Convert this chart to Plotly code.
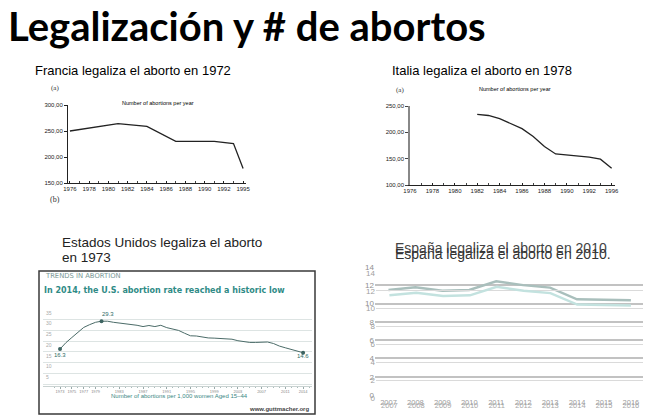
import plotly.graph_objects as go

W, H = 658, 419

# Francia (miles de abortos por año)
fr_years = [1976, 1981, 1984, 1987, 1991, 1993, 1994]
fr_abortions = [250, 264, 259, 230, 230, 226, 178]
fr_tick_years = [1976, 1978, 1980, 1982, 1984, 1986, 1988, 1990, 1992, 1994]
fr_tick_labels = ["1976", "1978", "1980", "1982", "1984", "1986", "1988", "1990", "1992", "1995"]
fr_y_ticks = [150, 200, 250, 300]

# Italia (miles de abortos por año)
it_years = [1982, 1983, 1984, 1985, 1986, 1987, 1988, 1989, 1990, 1991, 1992, 1993, 1994]
it_abortions = [234, 232, 226, 216, 207, 192, 173, 159, 157, 155, 153, 149, 132]
it_tick_years = [1976, 1978, 1980, 1982, 1984, 1986, 1988, 1990, 1992, 1994]
it_tick_labels = ["1976", "1978", "1980", "1982", "1984", "1986", "1988", "1990", "1992", "1996"]
it_y_ticks = [100, 150, 200, 250]

# Estados Unidos (abortos por 1.000 mujeres 15-44)
us_years = list(range(1973, 2015))
us_rate = [16.3, 19.3, 21.7, 24.2, 26.4, 27.7, 28.8, 29.3, 29.3, 28.8,
           28.5, 28.1, 28.0, 27.4, 26.8, 27.3, 26.8, 27.4, 26.3, 25.7,
           25.0, 23.7, 22.5, 22.4, 21.9, 21.5, 21.4, 21.3, 21.1, 20.9,
           20.2, 19.7, 19.4, 19.4, 19.5, 19.6, 18.9, 17.7, 16.9, 16.2,
           15.4, 14.6]
us_marked_years = [1973, 1980, 2014]
us_tick_years = [1973, 1975, 1977, 1979, 1983, 1987, 1991, 1995, 1999, 2003, 2007, 2011, 2014]

# España (tasa por 1.000 mujeres)
es_years = [2007, 2008, 2009, 2010, 2011, 2012, 2013, 2014, 2015, 2016]
es_rate = [11.49, 11.78, 11.41, 11.49, 12.44, 12.01, 11.74, 10.46, 10.40, 10.36]


def dx(left, right):
    return [left / W, right / W]


def dy(top, bottom):
    return [1 - bottom / H, 1 - top / H]


annotations = []


def label(text, px, py, size, color="#000", xanchor="center", family="Liberation Sans"):
    annotations.append(dict(
        text=text, x=px / W, y=1 - py / H, xref="paper", yref="paper",
        xanchor=xanchor, yanchor="middle", showarrow=False,
        font=dict(size=size, color=color, family=family),
    ))


fig = go.Figure()

# --- Francia ---
fig.add_trace(go.Scatter(x=fr_years, y=fr_abortions, mode="lines",
                         line=dict(color="#222", width=1.3), xaxis="x", yaxis="y"))
# --- Italia ---
fig.add_trace(go.Scatter(x=it_years, y=it_abortions, mode="lines",
                         line=dict(color="#222", width=1.3), xaxis="x2", yaxis="y2"))
# --- Estados Unidos ---
fig.add_trace(go.Scatter(x=us_years, y=us_rate, mode="lines",
                         line=dict(color="#4b6b68", width=1), xaxis="x3", yaxis="y3"))
marked = [us_rate[us_years.index(y)] for y in us_marked_years]
fig.add_trace(go.Scatter(x=us_marked_years, y=marked, mode="markers",
                         marker=dict(color="#3d6461", size=4), xaxis="x3", yaxis="y3"))
# --- España (imagen duplicada, dos copias desplazadas) ---
fig.add_trace(go.Scatter(x=es_years, y=es_rate, mode="lines",
                         line=dict(color="#c3e2df", width=2.5), xaxis="x5", yaxis="y5"))
fig.add_trace(go.Scatter(x=es_years, y=es_rate, mode="lines",
                         line=dict(color="#a9bfbc", width=2.5), xaxis="x4", yaxis="y4"))

small = dict(family="Liberation Sans", size=6, color="#222")

fig.update_layout(
    width=W, height=H,
    margin=dict(l=0, r=0, t=0, b=0, pad=0),
    paper_bgcolor="white", plot_bgcolor="rgba(0,0,0,0)",
    showlegend=False,
    xaxis=dict(domain=dx(68, 246), range=[1975.8, 1994.3], tickvals=fr_tick_years,
               ticktext=fr_tick_labels, tickfont=small, showgrid=False, zeroline=False,
               showline=True, linecolor="#222", linewidth=1, ticks="inside", ticklen=2,
               tickcolor="#222", automargin=False,
               minor=dict(dtick=1, ticks="inside", ticklen=2, tickcolor="#444")),
    yaxis=dict(domain=dy(105, 183), range=[150, 300], tickvals=fr_y_ticks,
               ticktext=[f"{v},00" for v in fr_y_ticks], tickfont=small, showgrid=False,
               zeroline=False, showline=True, linecolor="#222", linewidth=1,
               ticks="outside", ticklen=3, tickcolor="#222", automargin=False),
    xaxis2=dict(domain=dx(410, 615), range=[1976, 1994.3], tickvals=it_tick_years,
                ticktext=it_tick_labels, tickfont=small, showgrid=False, zeroline=False,
                showline=True, linecolor="#222", linewidth=1, ticks="inside", ticklen=2,
                tickcolor="#222", anchor="y2", automargin=False,
                minor=dict(dtick=1, ticks="inside", ticklen=2, tickcolor="#444")),
    yaxis2=dict(domain=dy(106, 185), range=[100, 250], tickvals=it_y_ticks,
                ticktext=[f"{v},00" for v in it_y_ticks], tickfont=small, showgrid=False,
                zeroline=False, showline=True, linecolor="#888", linewidth=1.5,
                ticks="outside", ticklen=3, tickcolor="#444", anchor="x2", automargin=False),
    xaxis3=dict(domain=dx(43, 312), range=[1970.13, 2015.5], tickvals=us_tick_years,
                tickfont=dict(family="Liberation Sans", size=4, color="#888"), tickangle=0,
                showgrid=False, zeroline=False, showline=True, linecolor="#c9d2d1",
                ticks="outside", ticklen=2, tickcolor="#9aa", anchor="y3", automargin=False,
                minor=dict(dtick=1, ticks="outside", ticklen=1.5, tickcolor="#abb")),
    yaxis3=dict(domain=dy(309, 385.5), range=[-0.7, 35], tickvals=[0, 5, 10, 15, 20, 25, 30, 35],
                gridcolor="#dde4e3", zeroline=False, showline=False, ticks="", anchor="x3",
                ticklabelposition="inside", ticklabelshift=4, automargin=False,
                tickfont=dict(family="Liberation Sans", size=5, color="#aaa")),
    xaxis4=dict(domain=dx(375, 643), range=[2006.5, 2016.45], tickvals=es_years,
                tickfont=dict(family="Liberation Sans", size=7.5, color="#9a9a9a"),
                showgrid=False, zeroline=False, showline=False, ticks="", anchor="y4",
                automargin=False),
    yaxis4=dict(domain=dy(266, 396), range=[-0.1, 14.1], dtick=2, gridcolor="#c2c2c2",
                gridwidth=1.5, zeroline=False, showline=False, ticks="", anchor="x4",
                automargin=False,
                tickfont=dict(family="Liberation Sans", size=8, color="#8f8f8f")),
    xaxis5=dict(domain=dx(376, 643), range=[2006.5, 2016.45], tickvals=es_years,
                tickfont=dict(family="Liberation Sans", size=7.5, color="#a8a8a8"),
                showgrid=False, zeroline=False, showline=False, ticks="", anchor="y5",
                automargin=False),
    yaxis5=dict(domain=dy(272, 399), range=[-0.1, 14.1], dtick=2, gridcolor="#dadada",
                gridwidth=1, zeroline=False, showline=False, ticks="", anchor="x5",
                automargin=False,
                tickfont=dict(family="Liberation Sans", size=8, color="#a0a0a0")),
    shapes=[dict(type="rect", xref="paper", yref="paper", x0=39 / W, x1=315 / W,
                 y0=1 - 414 / H, y1=1 - 271 / H, line=dict(color="#3a3a3a", width=1.5),
                 fillcolor="rgba(0,0,0,0)", layer="below")],
)

# titulo general
annotations.append(dict(
    text="<b>Legalización y # de abortos</b>", x=6 / W, y=1 - 0 / H, xref="paper",
    yref="paper", xanchor="left", yanchor="top", showarrow=False,
    font=dict(family="Lato", size=40, color="#000"),
))

# Francia
label("Francia legaliza el aborto en 1972", 33, 70, 13, xanchor="left")
label("(a)", 55, 88, 7, color="#333", family="Liberation Serif")
label("(b)", 55, 200, 8, color="#333", family="Liberation Serif")
label("Number of abortions per year", 158, 103, 5.5)

# Italia
label("Italia legaliza el aborto en 1978", 390, 70, 13, xanchor="left")
label("(a)", 400, 90, 7, color="#333", family="Liberation Serif")
label("Number of abortions per year", 515, 89, 5.5)

# Estados Unidos
label("Estados Unidos legaliza el aborto", 60, 242, 13.5, color="#222", xanchor="left")
label("en 1973", 60, 257, 13.5, color="#222", xanchor="left")
label("TRENDS IN ABORTION", 43, 276, 6.8, color="#7a9896", xanchor="left", family="DejaVu Sans")
label("<b>In 2014, the U.S. abortion rate reached a historic low</b>", 42, 290, 8,
      color="#2f8b86", xanchor="left", family="DejaVu Sans")
label("29.3", 108, 314, 6, color="#2e6b67")
label("16.3", 60, 355, 6, color="#2e6b67")
label("14.6", 303, 356, 6, color="#2e6b67")
label("Number of abortions per 1,000 women Aged 15–44", 179, 396, 6, color="#3a8884")
label("<b>www.guttmacher.org</b>", 311, 409, 6, color="#444", xanchor="right")

# España (titulo duplicado)
label("España legaliza el aborto en 2010", 393, 248, 14, color="#444", xanchor="left")
label("España legaliza el aborto en 2010.", 393, 254, 14, color="#333", xanchor="left")

fig.update_layout(annotations=annotations)

# sin margen del body para que la figura ocupe la ventana entera
fig.write_html("out.html", config={"displayModeBar": False},
               post_script="document.body.style.margin='0';document.body.style.overflow='hidden';")
